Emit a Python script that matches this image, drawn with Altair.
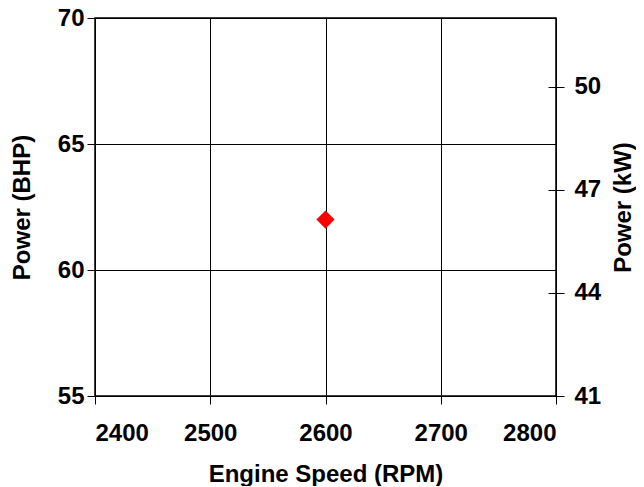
import altair as alt
import pandas as pd

speed_rpm = [2600]
power_bhp = [62]
power_kw = [46.13]

df = pd.DataFrame({"speed": speed_rpm, "bhp": power_bhp, "kw": power_kw})

FONT = "Liberation Sans"
LBL = 24
TTL = 24

x_enc = alt.X(
    "speed:Q",
    scale=alt.Scale(domain=[2400, 2800], nice=False, zero=False),
    axis=alt.Axis(
        values=[2400, 2500, 2600, 2700, 2800], format="d",
        title="Engine Speed (RPM)",
        grid=True, gridColor="black", gridWidth=1, gridOpacity=1,
        domain=False, tickColor="black", tickSize=8, tickWidth=1,
        labelFont=FONT, labelFontSize=LBL, labelFontWeight="bold", labelColor="black",
        labelPadding=17,
        titleFont=FONT, titleFontSize=TTL, titleFontWeight="bold", titleColor="black",
        titlePadding=17,
    ),
)

left = alt.Chart(df).mark_point(
    shape="diamond", filled=True, color="#ff0000", size=330, opacity=1
).encode(
    x=x_enc,
    y=alt.Y(
        "bhp:Q",
        scale=alt.Scale(domain=[55, 70], nice=False, zero=False),
        axis=alt.Axis(
            values=[55, 60, 65, 70],
            title="Power (BHP)", orient="left",
            grid=True, gridColor="black", gridWidth=1, gridOpacity=1,
            domain=False, tickColor="black", tickSize=8, tickWidth=1,
            labelFont=FONT, labelFontSize=LBL, labelFontWeight="bold", labelColor="black",
            labelPadding=3,
            titleFont=FONT, titleFontSize=TTL, titleFontWeight="bold", titleColor="black",
            titlePadding=23,
        ),
    ),
)

right = alt.Chart(df).mark_point(opacity=0).encode(
    x=alt.X("speed:Q", scale=alt.Scale(domain=[2400, 2800], nice=False, zero=False)),
    y=alt.Y(
        "kw:Q",
        scale=alt.Scale(domain=[41, 52], nice=False, zero=False),
        axis=alt.Axis(
            values=[41, 44, 47, 50],
            title="Power (kW)", orient="right", offset=-8,
            grid=False, domain=False, tickColor="black", tickSize=16, tickWidth=1,
            labelFont=FONT, labelFontSize=LBL, labelFontWeight="bold", labelColor="black",
            labelPadding=10,
            titleFont=FONT, titleFontSize=TTL, titleFontWeight="bold", titleColor="black",
            titleAngle=270, titlePadding=35,
        ),
    ),
)

chart = alt.layer(left, right).resolve_scale(y="independent").properties(
    width=461, height=378,
    autosize=alt.AutoSizeParams(type="none"),
    padding={"left": 87, "top": 10, "right": 80, "bottom": 90},
    background="white",
).configure_view(stroke="black", strokeWidth=1.5)

chart.save("out.html", embed_options={"renderer": "svg", "actions": False})
